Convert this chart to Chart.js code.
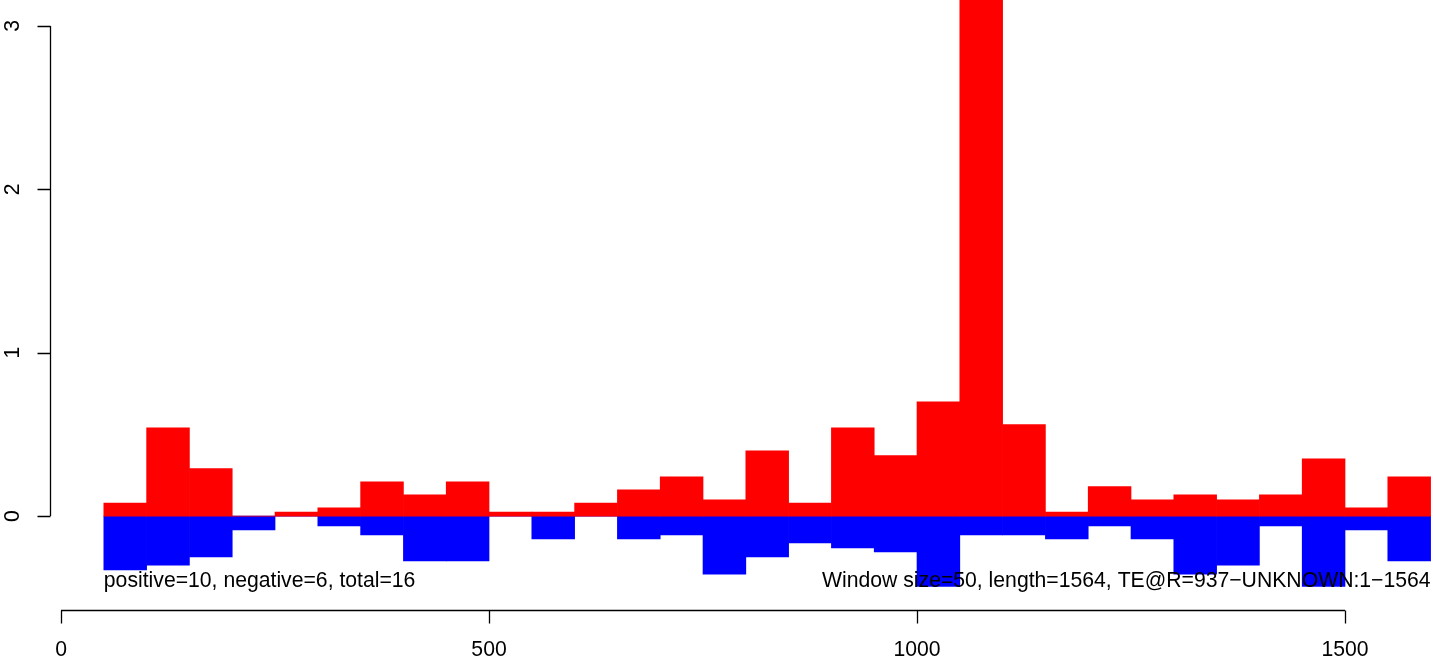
<!DOCTYPE html>
<html>
<head>
<meta charset="utf-8">
<script src="https://cdn.jsdelivr.net/npm/chart.js@4/dist/chart.umd.min.js"></script>
<style>
  html, body { margin: 0; padding: 0; background: #fff; }
  #wrap { width: 1433px; height: 659px; }
</style>
</head>
<body>
<div id="wrap"><canvas id="chart"></canvas></div>
<script>
// window starts (size 50)
const binStarts = [50, 100, 150, 200, 250, 300, 350, 400, 450, 500, 550, 600, 650, 700, 750, 800,
  850, 900, 950, 1000, 1050, 1100, 1150, 1200, 1250, 1300, 1350, 1400, 1450, 1500, 1550];
const binSize = 50;
const positive = [0.08, 0.54, 0.29, 0, 0.025, 0.05, 0.21, 0.13, 0.21, 0.025, 0.025, 0.08, 0.16, 0.24, 0.10, 0.40,
  0.08, 0.54, 0.37, 0.70, 3.3, 0.56, 0.025, 0.18, 0.10, 0.13, 0.10, 0.13, 0.35, 0.05, 0.24];
const negative = [-0.33, -0.30, -0.25, -0.085, 0, -0.06, -0.115, -0.275, -0.275, 0, -0.14, 0, -0.14, -0.115, -0.355, -0.25,
  -0.165, -0.195, -0.22, -0.43, -0.115, -0.115, -0.14, -0.06, -0.14, -0.355, -0.30, -0.06, -0.43, -0.085, -0.275];
const xTicks = [0, 500, 1000, 1500];
const yTicks = [0, 1, 2, 3];
const leftNote = "positive=10, negative=6, total=16";
const rightNote = "Window size=50, length=1564, TE@R=937\u2212UNKNOWN:1\u22121564";

const FONT = '"Liberation Sans", Arial, Helvetica, sans-serif';

const toPoints = (vals) => vals.map((v, i) => ({ x: binStarts[i] + binSize / 2, y: v }));

// R-style axes and notes, placed through the chart's own scales
const rAxes = {
  id: "rAxes",
  afterDraw(chart) {
    const ctx = chart.ctx;
    const xs = chart.scales.x;
    const ys = chart.scales.y;
    const tick = 13;
    ctx.save();
    ctx.strokeStyle = "#000";
    ctx.lineWidth = 1.3;
    ctx.fillStyle = "#000";
    ctx.font = "21.2px " + FONT;

    // x axis
    const axY = chart.chartArea.bottom + 0.5;
    ctx.beginPath();
    ctx.moveTo(xs.getPixelForValue(xTicks[0]), axY);
    ctx.lineTo(xs.getPixelForValue(xTicks[xTicks.length - 1]), axY);
    xTicks.forEach((t) => {
      const px = Math.round(xs.getPixelForValue(t)) + 0.5;
      ctx.moveTo(px, axY);
      ctx.lineTo(px, axY + tick);
    });
    ctx.stroke();
    ctx.textAlign = "center";
    ctx.textBaseline = "middle";
    xTicks.forEach((t) => ctx.fillText(String(t), xs.getPixelForValue(t), axY + 40));

    // y axis
    const axX = 50.5;
    ctx.beginPath();
    ctx.moveTo(axX, ys.getPixelForValue(yTicks[0]));
    ctx.lineTo(axX, ys.getPixelForValue(yTicks[yTicks.length - 1]));
    yTicks.forEach((t) => {
      const py = Math.round(ys.getPixelForValue(t)) + 0.5;
      ctx.moveTo(axX, py);
      ctx.lineTo(axX - tick, py);
    });
    ctx.stroke();
    yTicks.forEach((t) => {
      ctx.save();
      ctx.translate(13, ys.getPixelForValue(t));
      ctx.rotate(-Math.PI / 2);
      ctx.fillText(String(t), 0, 0);
      ctx.restore();
    });

    // notes
    const noteY = ys.getPixelForValue(-0.4);
    ctx.textAlign = "left";
    ctx.fillText(leftNote, xs.getPixelForValue(binStarts[0]), noteY);
    ctx.textAlign = "right";
    ctx.fillText(rightNote, xs.getPixelForValue(binStarts[binStarts.length - 1] + binSize), noteY);
    ctx.restore();
  },
};

new Chart(document.getElementById("chart"), {
  type: "bar",
  data: {
    datasets: [
      { label: "positive", data: toPoints(positive), backgroundColor: "#FF0000", borderWidth: 0, grouped: false },
      { label: "negative", data: toPoints(negative), backgroundColor: "#0000FF", borderWidth: 0, grouped: false },
    ],
  },
  options: {
    responsive: true,
    maintainAspectRatio: false,
    animation: false,
    layout: { padding: { left: 0, right: 0, top: 0, bottom: 49 } },
    plugins: { legend: { display: false }, tooltip: { enabled: false } },
    datasets: { bar: { barPercentage: 1, categoryPercentage: 1 } },
    scales: {
      x: { type: "linear", display: false, offset: false, grace: 0, min: -71.3, max: 1602.8, ticks: { stepSize: 500 } },
      y: { type: "linear", display: false, grace: 0, min: -0.575, max: 3.159 },
    },
  },
  plugins: [rAxes],
});
</script>
</body>
</html>
